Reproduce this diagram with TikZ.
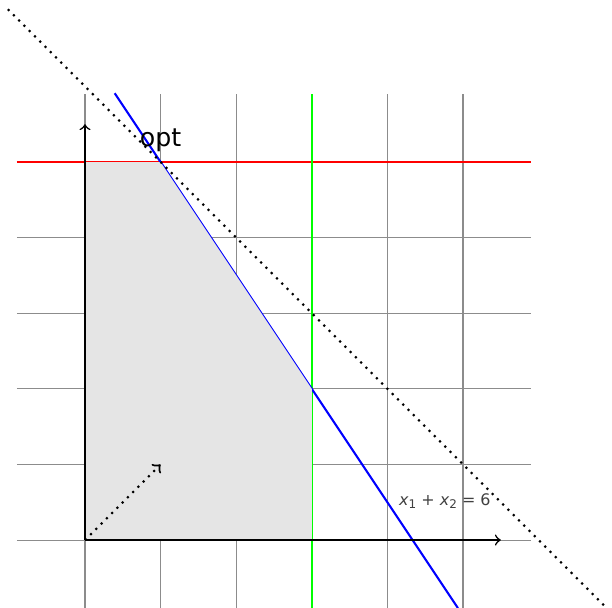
\documentclass[tikz,border=0pt]{standalone}
\usepackage{fontspec}
\setmainfont{DejaVu Sans}
\begin{document}
\begin{tikzpicture}[x=1cm,y=1cm,
  gridline/.style={black!45, line width=0.4pt},
  axisline/.style={->, line width=0.6pt},
  cstr/.style={line width=0.8pt}]
\useasboundingbox (-1.124,-0.899) rectangle (6.971,7.143);
% grid
\foreach \i in {0,...,5} {
  \draw[gridline] (\i,-0.9) -- (\i,5.9);
  \draw[gridline] (-0.9,\i) -- (5.9,\i);
}
% constraints
\coordinate (r1) at (-0.9,5);
\coordinate (r2) at (5.9,5);
\coordinate (g1) at (3,-0.9);
\coordinate (g2) at (3,5.9);
\coordinate (b1) at (0.393,5.91);
\coordinate (b2) at (4.933,-0.9);
\draw[cstr, red] (r1) -- (r2);
\draw[cstr, green] (g1) -- (g2);
\draw[cstr, blue] (b1) -- (b2);
% feasible region
\coordinate (O) at (0,0);
\coordinate (P1) at (0,5);
\coordinate (P2) at (1,5);
\coordinate (P3) at (3,2);
\coordinate (P4) at (3,0);
\fill[gray!20] (O) -- (P1) -- (P2) -- (P3) -- (P4) -- cycle;
% axes
\coordinate (xe) at (5.5,0);
\coordinate (ye) at (0,5.5);
\draw[axisline] (O) -- (xe);
\draw[axisline] (O) -- (ye);
% objective
\coordinate (d1) at (-1.02,7.02);
\coordinate (d2) at (6.9,-0.9);
\draw[thick, dotted] (d1) -- (d2);
\coordinate (c) at (1,1);
\draw[->, thick, dotted] (O) -- (c);
% labels
\node[font=\fontsize{9.5}{11}\selectfont, anchor=base] (opt) at (1.0,5.2) {opt};
\node[font=\fontsize{6}{7}\selectfont, text=black!75] (lab) at (4.76,0.51)
  {\textit{x}\raisebox{-0.35ex}{\fontsize{4.5}{5}\selectfont 1} + \textit{x}\raisebox{-0.35ex}{\fontsize{4.5}{5}\selectfont 2} = 6};
\end{tikzpicture}
\end{document}
